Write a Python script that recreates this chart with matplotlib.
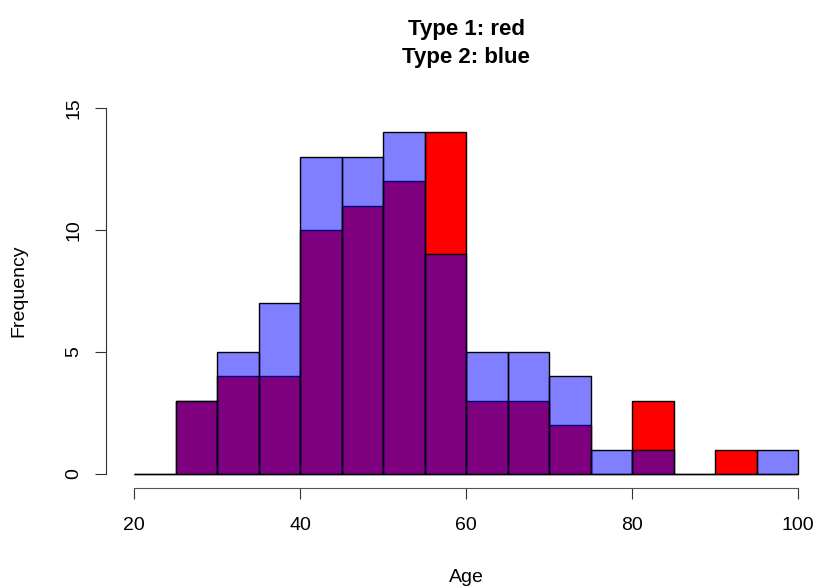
import numpy as np
import matplotlib
matplotlib.use("Agg")
from matplotlib import pyplot as plt

plt.rcParams['font.family'] = ['Liberation Sans', 'DejaVu Sans']

# histogram bins (width 5, from 20 to 100)
bin_edges = [20, 25, 30, 35, 40, 45, 50, 55, 60, 65, 70, 75, 80, 85, 90, 95, 100]
# counts
type1_counts = [0, 3, 4, 4, 10, 11, 12, 14, 3, 3, 2, 0, 3, 0, 1, 0]
type2_counts = [0, 3, 5, 7, 13, 13, 14, 9, 5, 5, 4, 1, 1, 0, 0, 1]
x_ticks = [20, 40, 60, 80, 100]
y_ticks = [0, 5, 10, 15]

W, H = 817, 586
fig = plt.figure(figsize=(W / 100, H / 100), dpi=100)

# axes box in pixels: left spine x=106, bottom spine y=488, top y=90
ax = fig.add_axes([106 / W, (H - 488) / H, (W - 106) / W, (488 - 90) / H])

px_per_x = (798 - 134) / 80.0
px_per_y = (474 - 108) / 15.0
ax.set_xlim(20 - (134 - 106) / px_per_x, 20 + (W - 134) / px_per_x)
ax.set_ylim(0 - (488 - 474) / px_per_y, 15 + (108 - 90) / px_per_y)

lefts = np.array(bin_edges[:-1])
widths = np.diff(bin_edges)

# type 1 first (solid red), then type 2 (half transparent blue) on top
ax.bar(lefts, type1_counts, width=widths, align='edge', color='#FF0000',
       edgecolor='black', linewidth=1)
ax.bar(lefts, type2_counts, width=widths, align='edge', color=(0, 0, 1, 0.5),
       edgecolor='black', linewidth=1)

# R-style detached axes
for s in ['top', 'right']:
    ax.spines[s].set_visible(False)
ax.spines['left'].set_bounds(0, 15)
ax.spines['bottom'].set_bounds(20, 100)
ax.spines['left'].set_color('#333333')
ax.spines['bottom'].set_color('#555555')

ax.set_xticks(x_ticks)
ax.set_yticks(y_ticks)
ax.set_xticklabels([str(v) for v in x_ticks])
ax.set_yticklabels([str(v) for v in y_ticks], rotation=90, va='center')
ax.tick_params(axis='x', length=8, pad=13, labelsize=14, color='#333333')
ax.tick_params(axis='y', length=8, pad=9, labelsize=14, color='#333333')

fig.text(466 / W, 1 - 29 / H, 'Type 1: red', ha='center', va='center',
         fontsize=16, fontweight='bold')
fig.text(466 / W, 1 - 58 / H, 'Type 2: blue', ha='center', va='center',
         fontsize=16, fontweight='bold')
fig.text(466 / W, 1 - 577 / H, 'Age', ha='center', va='center', fontsize=14)
fig.text(19 / W, 1 - 291 / H, 'Frequency', ha='center', va='center',
         fontsize=14, rotation=90)

fig.savefig('out.png', dpi=100)
